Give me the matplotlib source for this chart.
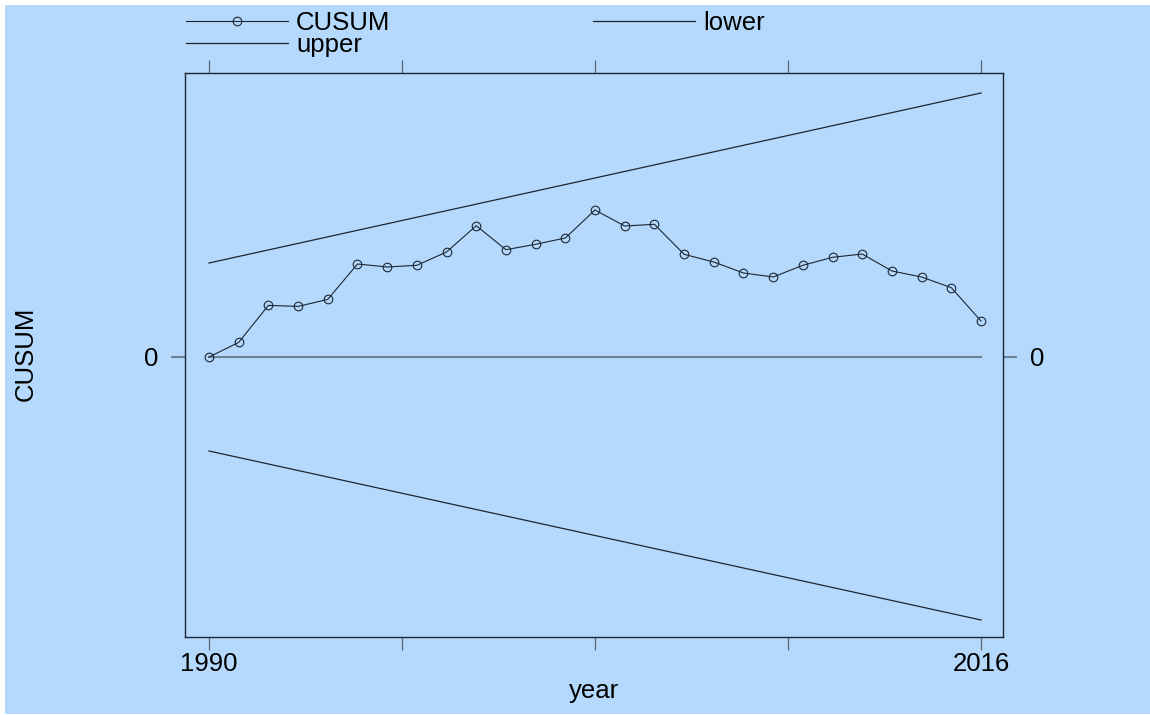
import matplotlib

matplotlib.use("Agg")
import matplotlib.pyplot as plt
from matplotlib.patches import Rectangle

# CUSUM of recursive residuals, 1990-2016, with 5% significance bounds
years = list(range(1990, 2017))
cusum = [0.0, 1.46, 5.16, 5.06, 5.76, 9.3, 9.0, 9.17, 10.5, 13.13, 10.73, 11.27, 11.9, 14.7,
         13.1, 13.27, 10.27, 9.5, 8.4, 8.0, 9.17, 9.97, 10.3, 8.6, 8.0, 6.93, 3.6]
bound_years = [1990, 2016]
upper = [9.4, 26.4]
lower = [-9.4, -26.3]
xticks = [1990, 1996.5, 2003, 2009.5, 2016]
xticklabels = ["1990", "", "", "", "2016"]

BG = "#b5d9fd"
INK = "#1c2633"
FS = 18.5

plt.rcParams["font.family"] = ["Liberation Sans", "DejaVu Sans"]

fig = plt.figure(figsize=(11.5, 7.15), dpi=100, facecolor="white")
fig.add_artist(Rectangle((5 / 1150, 0.0014), 1, 1 - 5 / 715 - 0.0014, transform=fig.transFigure,
                         facecolor=BG, edgecolor="none", zorder=-10))

ax = fig.add_axes([185 / 1150, 1 - 637 / 715, (1003 - 185) / 1150, (637 - 73) / 715])
ax.set_facecolor(BG)

ax.plot(bound_years, [0, 0], color="#6e8094", lw=1.5, zorder=1)
ax.plot(years, cusum, color=INK, lw=0.8, marker="o", ms=6.2, mfc="none", mec=INK, mew=0.8,
        label="CUSUM", zorder=3)
ax.plot(bound_years, upper, color=INK, lw=0.9, label="upper", zorder=2)
ax.plot(bound_years, lower, color=INK, lw=0.9, label="lower", zorder=2)

ax.set_xlim(1990 - 24 / 29.69, 2016 + 22 / 29.69)
ax.set_ylim(-28.0, 28.4)

ax.set_xticks(xticks, xticklabels)
ax.set_yticks([0], ["0"])
ax.tick_params(axis="x", which="both", top=True, labeltop=False, direction="out", length=9.4,
               width=0.9, color="#5a6878", labelsize=FS, pad=1.5)
ax.tick_params(axis="y", which="both", right=True, labelright=True, direction="out", length=10,
               width=1.5, color="#6e8094", labelsize=FS, pad=9.5)
for sp in ax.spines.values():
    sp.set_color(INK)
    sp.set_linewidth(1.0)

ax.set_xlabel("year", fontsize=FS, labelpad=2)
fig.text(26 / 1150, 1 - 354 / 715, "CUSUM", rotation=90, fontsize=FS, ha="center", va="center")

handles, labels = ax.get_legend_handles_labels()
fig.legend(handles, labels, ncol=2, frameon=False,
           loc="upper left", bbox_to_anchor=(186 / 1150, 1 - 11 / 715), borderaxespad=0,
           borderpad=0, fontsize=FS, handlelength=3.97, handletextpad=0.31,
           columnspacing=7.9, labelspacing=-0.07)

fig.savefig("out.png", dpi=100, facecolor="white")
